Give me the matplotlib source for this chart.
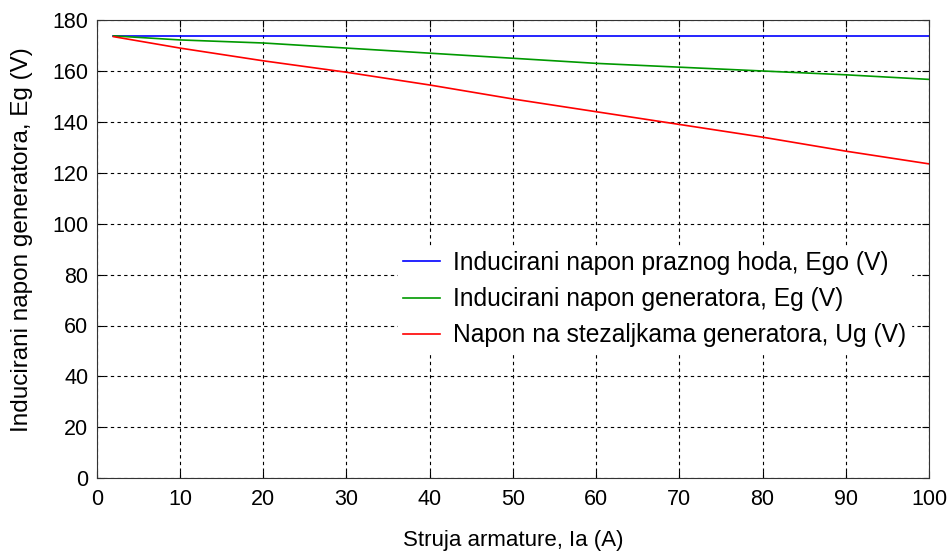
import matplotlib
matplotlib.use("Agg")
from matplotlib import pyplot as plt

plt.rcParams['font.family'] = ['Liberation Sans', 'DejaVu Sans']

# struja armature (A)
ia = [2, 10, 20, 30, 40, 50, 60, 70, 80, 90, 100]
# inducirani napon praznog hoda
ego = [173.9, 173.9, 173.9, 173.9, 173.9, 173.9, 173.9, 173.9, 173.9, 173.9, 173.9]
# inducirani napon generatora
eg = [173.8, 172.2, 171.0, 169.0, 167.0, 165.0, 163.0, 161.5, 160.0, 158.5, 156.7]
# napon na stezaljkama
ug = [173.5, 169.0, 164.0, 159.5, 154.5, 149.0, 144.0, 139.0, 134.0, 128.5, 123.5]

fig = plt.figure(figsize=(9.49, 5.58), dpi=100)
ax = fig.add_axes([0.102, 0.143, 0.877, 0.821])
ax.plot(ia, ego, color="#0000ff", lw=1.2, label="Inducirani napon praznog hoda, Ego (V)")
ax.plot(ia, eg, color="#009900", lw=1.2, label="Inducirani napon generatora, Eg (V)")
ax.plot(ia, ug, color="#ff0000", lw=1.2, label="Napon na stezaljkama generatora, Ug (V)")

ax.set_xlim(0, 100)
ax.set_ylim(0, 180)
ax.set_xticks(range(0, 101, 10))
ax.set_yticks(range(0, 181, 20))
ax.grid(True, color="black", linestyle=(0, (3, 3)), lw=0.8)
ax.tick_params(direction="in", labelsize=15.5, top=True, right=True, length=5)
ax.tick_params(axis="x", pad=8)
ax.tick_params(axis="y", pad=6)
for s in ax.spines.values():
    s.set_color("#333333")

ax.set_xlabel("Struja armature, Ia (A)", fontsize=16, labelpad=14)
ax.set_ylabel("Inducirani napon generatora, Eg (V)", fontsize=17.5)
ax.yaxis.set_label_coords(-0.077, 0.52)

leg = ax.legend(loc="upper left", bbox_to_anchor=(0.362, 0.507), fontsize=17.7,
                frameon=True, edgecolor="white", fancybox=False, handlelength=1.5,
                handletextpad=0.53, labelspacing=0.5, borderaxespad=0, borderpad=0.2)
leg.get_frame().set_alpha(1)

fig.savefig("out.png", dpi=100)
